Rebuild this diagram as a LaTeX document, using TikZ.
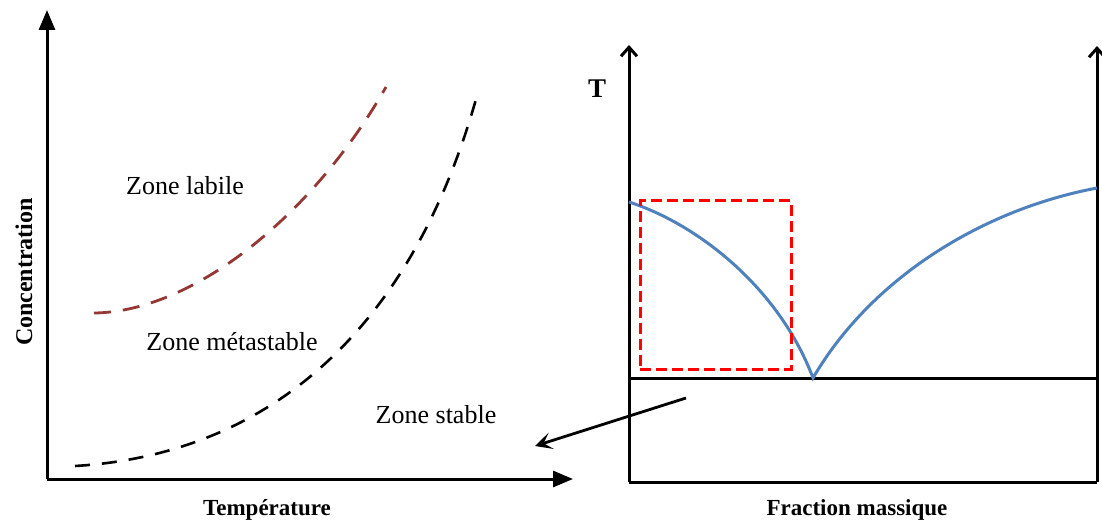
\documentclass[tikz,border=0pt]{standalone}
\usepackage{fontspec}
\setmainfont{Liberation Serif}
\usetikzlibrary{arrows.meta}
\definecolor{liqblue}{HTML}{4F81BD}
\definecolor{labilered}{HTML}{953735}
\tikzset{
  axisfilled/.style={line width=3pt, -{Triangle[length=20pt,width=16pt]}},
  axisopen/.style={line width=3pt, -{Straight Barb[length=9pt,width=16pt]}},
  plainaxis/.style={line width=3pt, line cap=square},
  zonetext/.style={font=\fontsize{26}{30}\selectfont, anchor=base, inner sep=0pt},
  axistext/.style={font=\bfseries\fontsize{23}{27}\selectfont, anchor=base, inner sep=0pt},
  labilecurve/.style={draw=labilered, line width=2.8pt, dash pattern=on 17pt off 12pt},
  solcurve/.style={draw=black, line width=2.6pt, dash pattern=on 15pt off 12pt},
  liquidus/.style={draw=liqblue, line width=3pt},
  zoomframe/.style={draw=red, line width=3pt, dash pattern=on 11pt off 5pt, inner sep=0pt},
  linkarrow/.style={line width=2.8pt, -{Stealth[length=17pt,width=17pt,inset=8pt]}}
}
\begin{document}
\begin{tikzpicture}[x=1pt,y=-1pt]
\useasboundingbox (0,0) rectangle (1102,521);
% solubility diagram
\coordinate (origin) at (47,479);
\coordinate (ctop) at (47,10);
\coordinate (tend) at (573,479);
\draw[axisfilled] (origin) -- (ctop);
\draw[axisfilled] (origin) -- (tend);
\draw[labilecurve] (94,313) .. controls (190,312) and (310,220) .. (386,87);
\draw[solcurve] (75,466) .. controls (260,455) and (410,340) .. (478,92);
\node[zonetext] (labile) at (185,195) {Zone labile};
\node[zonetext] (meta) at (232,350) {Zone métastable};
\node[zonetext] (stable) at (436,423) {Zone stable};
\node[axistext] (temp) at (267,515) {Température};
\node[axistext, rotate=90, font=\bfseries\fontsize{24}{28}\selectfont] (conc) at (32,272) {Concentration};
% phase diagram
\coordinate (bl) at (629,482);
\coordinate (br) at (1097,482);
\coordinate (tl) at (629,45);
\coordinate (tr) at (1097,46);
\coordinate (el) at (629,378);
\coordinate (er) at (1097,378);
\coordinate (eut) at (813,378);
\draw[axisopen] (bl) -- (tl);
\draw[axisopen] (br) -- (tr);
\draw[plainaxis] (bl) -- (br);
\draw[plainaxis] (el) -- (er);
\draw[liquidus] (629,202) .. controls (700,225) and (780,290) .. (eut)
  .. controls (870,280) and (980,210) .. (1097,188);
\node[zoomframe, minimum width=151pt, minimum height=168pt] (frame) at (715.5,285) {};
\node[axistext, font=\bfseries\fontsize{27}{30}\selectfont] (tlabel) at (597,98) {T};
\node[axistext] (frac) at (857,515) {Fraction massique};
\coordinate (linkstart) at (686,398);
\coordinate (linkend) at (535,446);
\draw[linkarrow] (linkstart) -- (linkend);
\end{tikzpicture}
\end{document}
